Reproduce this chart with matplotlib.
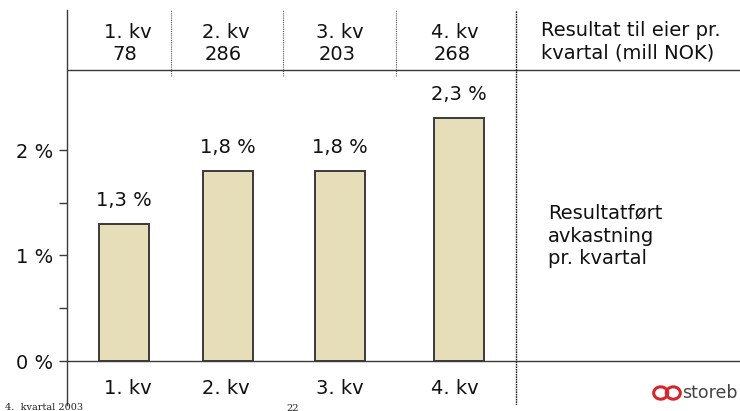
import matplotlib
matplotlib.use("Agg")
import matplotlib.pyplot as plt
from matplotlib.patches import Ellipse

# ── Data ────────────────────────────────────────────────────────────────
quarters = ["1. kv", "2. kv", "3. kv", "4. kv"]
return_pct = [1.3, 1.8, 1.8, 2.3]
return_labels = ["1,3 %", "1,8 %", "1,8 %", "2,3 %"]
owner_result = ["78", "286", "203", "268"]
ytick_vals = [0, 1, 2]
ytick_labels = ["0 %", "1 %", "2 %"]

# ── Layout (pixel-based, figure is 740x411) ─────────────────────────────
W, H = 740, 411
bar_x = [57, 161, 273, 392]          # bar centres, px from left axis
bar_w = 50
PX_PER_PCT = 105.5
Y0 = 361                              # pixel row of 0 %
AX_TOP, AX_BOT, AX_LEFT = 10, 405, 67

BAR_FC = "#E6DDB9"
EDGE = "#3a3a3a"
FS = 14

plt.rcParams["font.family"] = ["DejaVu Sans"]

fig = plt.figure(figsize=(W / 100, H / 100), dpi=100)
ax = fig.add_axes([AX_LEFT / W, (H - AX_BOT) / H,
                   (W - AX_LEFT) / W, (AX_BOT - AX_TOP) / H])
ax.set_xlim(0, W - AX_LEFT)
ax.set_ylim(-(AX_BOT - Y0) / PX_PER_PCT, (Y0 - AX_TOP) / PX_PER_PCT)

for s in ("top", "right", "bottom"):
    ax.spines[s].set_visible(False)
ax.spines["left"].set_color(EDGE)
ax.spines["left"].set_linewidth(1.0)

ax.bar(bar_x, return_pct, width=bar_w, color=BAR_FC, edgecolor=EDGE,
       linewidth=1.4, zorder=3)

for x, v, lab in zip(bar_x, return_pct, return_labels):
    ax.annotate(lab, (x, v), xytext=(0, 17), textcoords="offset points",
                ha="center", va="center", fontsize=FS, color="#111111")

ax.set_xticks([])
ax.set_yticks(ytick_vals)
ax.set_yticklabels(ytick_labels, fontsize=FS, color="#111111")
ax.set_yticks([0.5, 1.5], minor=True)
ax.tick_params(axis="y", which="both", direction="out", length=6,
               width=1.0, color=EDGE, pad=4)

# baseline and header rule
ax.axhline(0, color=EDGE, lw=1.0, zorder=4)
hdr_y = (AX_BOT - 70) / (AX_BOT - AX_TOP)
ax.axhline((Y0 - 70) / PX_PER_PCT, color=EDGE, lw=1.0)

# separators
xt = ax.get_xaxis_transform()
for xs in [104, 216, 329]:
    ax.plot([xs, xs], [hdr_y - 0.015, 1.0], transform=xt,
            color="#555555", lw=0.8, ls=(0, (1, 1)))
ax.plot([448.5, 448.5], [0, 1], transform=xt,
        color="#222222", lw=1.0, ls=(0, (1.2, 0.6)))


def yfrac(py):
    return (AX_BOT - py) / (AX_BOT - AX_TOP)


# header row
label_x = [61, 159, 273, 388]
for x, q, r in zip(label_x, quarters, owner_result):
    ax.text(x, yfrac(33), q, transform=xt,
            ha="center", va="center", fontsize=FS, color="#111111")
    ax.text(x - 3, yfrac(54), r, transform=xt,
            ha="center", va="center", fontsize=FS, color="#111111")
ax.text(474, yfrac(42),
        "Resultat til eier pr.\nkvartal (mill NOK)", transform=xt,
        ha="left", va="center", fontsize=FS, color="#111111", linespacing=1.2)

# bottom category labels
for x, q in zip(label_x, quarters):
    ax.text(x, yfrac(388), q, transform=xt,
            ha="center", va="center", fontsize=FS, color="#111111")

# right-hand caption
ax.text(481, yfrac(236),
        "Resultatført\navkastning\npr. kvartal", transform=xt,
        ha="left", va="center", fontsize=FS, color="#111111", linespacing=1.25)

# footer
fig.text(5 / W, 1 - 407 / H, "4.  kvartal 2003", fontsize=7, family="serif",
         ha="left", va="center", color="#222222")
fig.text(293 / W, 1 - 408 / H, "22", fontsize=7, family="serif",
         ha="center", va="center", color="#222222")

# logo
lx, ly = 667 / W, 1 - 393 / H
for dx in (-0.0085, 0.0085):
    fig.add_artist(Ellipse((lx + dx, ly), 0.019, 0.03, transform=fig.transFigure,
                           fill=False, ec="#d7262b", lw=2.2))
fig.text(682 / W, ly, "storeb", fontsize=12.5, ha="left", va="center",
         color="#444444")

fig.savefig("out.png", dpi=100)
